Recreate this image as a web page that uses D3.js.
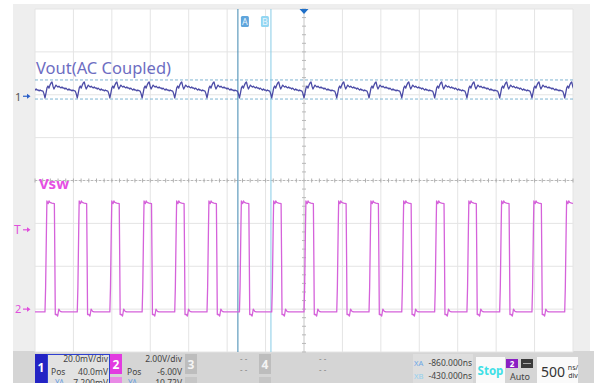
<!DOCTYPE html>
<html lang="en">
<head>
<meta charset="UTF-8">
<title>Vout / Vsw scope capture</title>
<script src="https://cdnjs.cloudflare.com/ajax/libs/d3/7.8.5/d3.min.js"></script>
<style>
body { margin: 0; background: #fff; }
svg { display: block; font-family: "Noto Sans", "Open Sans", sans-serif; }
</style>
</head>
<body>
<div id="scope"></div>
<script>

// rising edges of Vsw in ns (trigger at 0)
var edges = [-3798, -3370, -2950, -2526, -2106, -1682, -1262, -840, -420,
             0, 426, 846, 1272, 1700, 2120, 2546, 2966, 3392];

// one switching cycle of Vout: [ns after edge, mV]
var voutCycle = [
  [-26, 1.7], [-13, 0.4], [0, -1.5], [13, 0.8], [26, 3.2], [39, 4.1], [52, 3.1],
  [65, 4.5], [78, 5.5], [91, 6.0], [104, 4.0], [117, 2.7], [130, 3.6], [143, 4.5],
  [156, 4.0], [169, 3.6], [182, 4.0], [195, 3.5], [208, 3.2], [221, 3.6],
  [234, 3.1], [247, 3.2], [260, 2.7], [273, 3.1], [286, 2.6], [299, 2.2],
  [312, 2.7], [325, 2.2], [338, 2.3], [351, 1.8], [364, 2.2], [377, 1.9]
];

// one switching cycle of Vsw: [ns after edge, V]
var vswCycle = [
  [-13, -0.13], [0, -0.13], [8, 1.0], [20, 4.0], [25, 5.05], [33, 4.97],
  [42, 4.92], [52, 5.05], [64, 4.98], [90, 4.95], [122, 4.92], [128, 2.5],
  [134, -0.25], [150, -0.25], [165, -0.32], [180, 0.0], [198, -0.1], [220, -0.13]
];

var voutLimits = [6.9, -2.0];     // mV, dashed lines round ch1
var trigLevel = 3.7;              // V on ch2
var cursors = [
  { name: "A", t: -860, line: "#3f87b0", box: "#5fa5dc" },
  { name: "B", t: -430, line: "#86cbe6", box: "#92d6f2" }
];
var timeTicks = [-3500, -3000, -2500, -2000, -1500, -1000, -500, 0,
                 500, 1000, 1500, 2000, 2500, 3000, 3500];
var voltTicks = [-2, 0, 2, 4, 6, 8, 10, 12, 14];

var W = 594, H = 383;
var pL = 35, pR = 573, pT = 9, pB = 352;

var svg = d3.select("#scope").append("svg")
  .attr("width", W)
  .attr("height", H);

// panel backgrounds
svg.append("rect").attr("x", 13).attr("y", 4).attr("width", 577).attr("height", 350)
  .attr("fill", "#eeeeee");
svg.append("rect").attr("x", 13).attr("y", 351).attr("width", 581).attr("height", 32)
  .attr("fill", "#d5d5d5");
svg.append("rect").attr("x", pL).attr("y", pT)
  .attr("width", pR - pL).attr("height", pB - pT)
  .attr("fill", "#fff");

var x = d3.scaleLinear().domain([-3500, 3500]).range([pL, pR]);
var y1 = d3.scaleLinear().domain([-120, 40]).range([pB, pT]);   // ch1 mV
var y2 = d3.scaleLinear().domain([-2, 14]).range([pB, pT]);     // ch2 V

// grid
svg.selectAll("line.vg").data(timeTicks).enter().append("line")
  .attr("class", "vg")
  .attr("x1", function(d) { return x(d); }).attr("x2", function(d) { return x(d); })
  .attr("y1", pT).attr("y2", pB)
  .attr("stroke", "#e4e4e4").attr("stroke-width", 1);
svg.selectAll("line.hg").data(voltTicks).enter().append("line")
  .attr("class", "hg")
  .attr("x1", pL).attr("x2", pR)
  .attr("y1", function(d) { return y2(d); }).attr("y2", function(d) { return y2(d); })
  .attr("stroke", "#e4e4e4").attr("stroke-width", 1);

// centre axes with minor ticks
var xMinor = d3.range(-3500, 3501, 100);
var yMinor = d3.range(-2, 14.01, 0.4);
svg.append("line").attr("x1", pL).attr("x2", pR)
  .attr("y1", y2(6)).attr("y2", y2(6))
  .attr("stroke", "#b8b8b8").attr("stroke-dasharray", "2,2");
svg.selectAll("line.xm").data(xMinor).enter().append("line")
  .attr("class", "xm")
  .attr("x1", function(d) { return x(d); }).attr("x2", function(d) { return x(d); })
  .attr("y1", y2(6) - 2).attr("y2", y2(6) + 2)
  .attr("stroke", "#b0b0b0");
svg.append("line").attr("x1", x(0)).attr("x2", x(0))
  .attr("y1", pT).attr("y2", pB)
  .attr("stroke", "#d4d4d4");
svg.selectAll("line.ym").data(yMinor).enter().append("line")
  .attr("class", "ym")
  .attr("x1", x(0) - 2).attr("x2", x(0) + 2)
  .attr("y1", function(d) { return y2(d); }).attr("y2", function(d) { return y2(d); })
  .attr("stroke", "#b8b8b8");

// dashed limit lines round Vout
svg.selectAll("line.lim").data(voutLimits).enter().append("line")
  .attr("class", "lim")
  .attr("x1", pL).attr("x2", pR)
  .attr("y1", function(d) { return y1(d); }).attr("y2", function(d) { return y1(d); })
  .attr("stroke", "#7fb4d2").attr("stroke-width", 1)
  .attr("stroke-dasharray", "3,2");

// cursors
svg.selectAll("line.cur").data(cursors).enter().append("line")
  .attr("class", "cur")
  .attr("x1", function(d) { return x(d.t); }).attr("x2", function(d) { return x(d.t); })
  .attr("y1", pT).attr("y2", pB)
  .attr("stroke", function(d) { return d.line; }).attr("stroke-width", 1);
svg.selectAll("rect.curbox").data(cursors).enter().append("rect")
  .attr("class", "curbox")
  .attr("x", function(d, i) { return x(d.t) + (i == 0 ? 3 : -10); })
  .attr("y", 16).attr("width", 8).attr("height", 11).attr("rx", 1.5)
  .attr("fill", function(d) { return d.box; });
svg.selectAll("text.curlab").data(cursors).enter().append("text")
  .attr("class", "curlab")
  .attr("x", function(d, i) { return x(d.t) + (i == 0 ? 7 : -6); })
  .attr("y", 25).attr("text-anchor", "middle")
  .attr("font-size", 9).attr("fill", "#e8f4fc")
  .text(function(d) { return d.name; });

// trigger position marker
svg.append("path")
  .attr("d", "M" + (x(0) - 4.5) + "," + pT + "L" + (x(0) + 4.5) + "," + pT + "L" + x(0) + "," + (pT + 5) + "Z")
  .attr("fill", "#1f6fc8");

// build traces from the edge list and per-cycle shapes
function trace(cycle) {
  var pts = [];
  edges.forEach(function(e) {
    cycle.forEach(function(p) { pts.push([e + p[0], p[1]]); });
  });
  pts.sort(function(a, b) { return a[0] - b[0]; });
  return pts;
}

svg.append("clipPath").attr("id", "plotclip")
  .append("rect").attr("x", pL).attr("y", pT)
  .attr("width", pR - pL).attr("height", pB - pT);

var g = svg.append("g").attr("clip-path", "url(#plotclip)");

g.append("path")
  .datum(trace(voutCycle))
  .attr("d", d3.line().x(function(d) { return x(d[0]); }).y(function(d) { return y1(d[1]); }))
  .attr("fill", "none").attr("stroke", "#4b4ba6").attr("stroke-width", 1.3)
  .attr("stroke-linejoin", "round");

g.append("path")
  .datum(trace(vswCycle))
  .attr("d", d3.line().x(function(d) { return x(d[0]); }).y(function(d) { return y2(d[1]); }))
  .attr("fill", "none").attr("stroke", "#d562da").attr("stroke-width", 1.3)
  .attr("stroke-linejoin", "round");

// channel labels
svg.append("text").attr("x", 36).attr("y", 74)
  .attr("font-size", 16.5).attr("fill", "#6d6dc2")
  .text("Vout(AC Coupled)");
svg.append("text").attr("x", 39).attr("y", 189)
  .attr("font-size", 15).attr("font-weight", "bold").attr("fill", "#e54fe3")
  .text("Vsw");

// ground / trigger markers at the left
function arrow(yy, col) {
  svg.append("path")
    .attr("d", "M23," + yy + "L29," + yy)
    .attr("stroke", col).attr("stroke-width", 1.2);
  svg.append("path")
    .attr("d", "M27," + (yy - 2.5) + "L30.5," + yy + "L27," + (yy + 2.5) + "Z")
    .attr("fill", col);
}
svg.append("text").attr("x", 15).attr("y", 101).attr("font-size", 11).attr("fill", "#555").text("1");
arrow(y1(0) + 1.5, "#2a5fc8");
svg.append("text").attr("x", 14).attr("y", 234).attr("font-size", 12).attr("fill", "#e04fdc").text("T");
arrow(y2(trigLevel), "#e04fdc");
svg.append("text").attr("x", 15).attr("y", 313).attr("font-size", 11).attr("fill", "#e04fdc").text("2");
arrow(y2(0), "#e04fdc");

// bottom status bar
var bar = svg.append("g").attr("font-size", 8.5).attr("fill", "#444");

// channel 1
bar.append("rect").attr("x", 35).attr("y", 354).attr("width", 12).attr("height", 30).attr("fill", "#2323c4");
bar.append("rect").attr("x", 47.5).attr("y", 354.5).attr("width", 62).attr("height", 30)
  .attr("fill", "#e2e2e2").attr("stroke", "#2f3fd0").attr("stroke-width", 1);
bar.append("text").attr("x", 41).attr("y", 372).attr("text-anchor", "middle")
  .attr("font-size", 12).attr("font-weight", "bold").attr("fill", "#fff").text("1");
bar.append("text").attr("x", 108).attr("y", 362).attr("text-anchor", "end").text("20.0mV/div");
bar.append("text").attr("x", 51).attr("y", 375).text("Pos");
bar.append("text").attr("x", 108).attr("y", 375).attr("text-anchor", "end").text("40.0mV");
bar.append("text").attr("x", 55).attr("y", 386).attr("font-size", 8).attr("fill", "#6a9ee0").text("YA");
bar.append("text").attr("x", 108).attr("y", 386).attr("text-anchor", "end").text("7.200mV");

// channel 2
bar.append("rect").attr("x", 110).attr("y", 354).attr("width", 12).attr("height", 20).attr("fill", "#e23ae0");
bar.append("rect").attr("x", 110).attr("y", 377).attr("width", 12).attr("height", 8).attr("fill", "#e98ae6");
bar.append("text").attr("x", 116).attr("y", 369).attr("text-anchor", "middle")
  .attr("font-size", 12).attr("font-weight", "bold").attr("fill", "#fff").text("2");
bar.append("text").attr("x", 182).attr("y", 362).attr("text-anchor", "end").text("2.00V/div");
bar.append("text").attr("x", 127).attr("y", 375).text("Pos");
bar.append("text").attr("x", 182).attr("y", 375).attr("text-anchor", "end").text("-6.00V");
bar.append("text").attr("x", 128).attr("y", 386).attr("font-size", 8).attr("fill", "#6a9ee0").text("YA");
bar.append("text").attr("x", 182).attr("y", 386).attr("text-anchor", "end").text("10.72V");

// channels 3 and 4 (off)
[[185, "3", 240], [259, "4", 319]].forEach(function(c) {
  bar.append("rect").attr("x", c[0]).attr("y", 354).attr("width", 12).attr("height", 20).attr("fill", "#bdbdbd");
  bar.append("rect").attr("x", c[0]).attr("y", 377).attr("width", 12).attr("height", 8).attr("fill", "#c6c6c6");
  bar.append("text").attr("x", c[0] + 6).attr("y", 369).attr("text-anchor", "middle")
    .attr("font-size", 12).attr("font-weight", "bold").attr("fill", "#f4f4f4").text(c[1]);
  bar.append("text").attr("x", c[2]).attr("y", 362).attr("fill", "#888").attr("font-size", 8).text("- -");
  bar.append("text").attr("x", c[2]).attr("y", 373).attr("fill", "#888").attr("font-size", 8).text("- -");
});

// cursor readout
bar.append("rect").attr("x", 413).attr("y", 354).attr("width", 60).attr("height", 29).attr("fill", "#dedede");
bar.append("text").attr("x", 414).attr("y", 366).attr("font-size", 7.5).attr("fill", "#6aa6e6").text("XA");
bar.append("text").attr("x", 472).attr("y", 366).attr("text-anchor", "end").text("-860.000ns");
bar.append("text").attr("x", 414).attr("y", 379).attr("font-size", 7.5).attr("fill", "#8fd0f0").text("XB");
bar.append("text").attr("x", 472).attr("y", 379).attr("text-anchor", "end").text("-430.000ns");

// run state
bar.append("rect").attr("x", 476).attr("y", 357).attr("width", 29).attr("height", 26).attr("fill", "#fafafa");
bar.append("text").attr("x", 490.5).attr("y", 375).attr("text-anchor", "middle")
  .attr("font-size", 11.5).attr("font-weight", "bold").attr("fill", "#3fe0e6").text("Stop");
bar.append("rect").attr("x", 506).attr("y", 359).attr("width", 12).attr("height", 9).attr("fill", "#8a1fc4");
bar.append("text").attr("x", 512).attr("y", 367).attr("text-anchor", "middle")
  .attr("font-size", 8).attr("font-weight", "bold").attr("fill", "#fff").text("2");
bar.append("rect").attr("x", 521).attr("y", 359).attr("width", 12).attr("height", 9).attr("fill", "#3a3a3a");
bar.append("line").attr("x1", 523).attr("x2", 531).attr("y1", 363.5).attr("y2", 363.5).attr("stroke", "#aaa");
bar.append("text").attr("x", 520).attr("y", 380).attr("text-anchor", "middle").attr("font-size", 9).text("Auto");

// timebase
bar.append("rect").attr("x", 537).attr("y", 357).attr("width", 41).attr("height", 26).attr("fill", "#fafafa");
bar.append("text").attr("x", 541).attr("y", 377).attr("font-size", 14).attr("fill", "#333").text("500");
bar.append("text").attr("x", 573).attr("y", 370).attr("text-anchor", "middle").attr("font-size", 7).attr("fill", "#333").text("ns/");
bar.append("text").attr("x", 573).attr("y", 378).attr("text-anchor", "middle").attr("font-size", 7).attr("fill", "#333").text("div");

</script>
</body>
</html>
